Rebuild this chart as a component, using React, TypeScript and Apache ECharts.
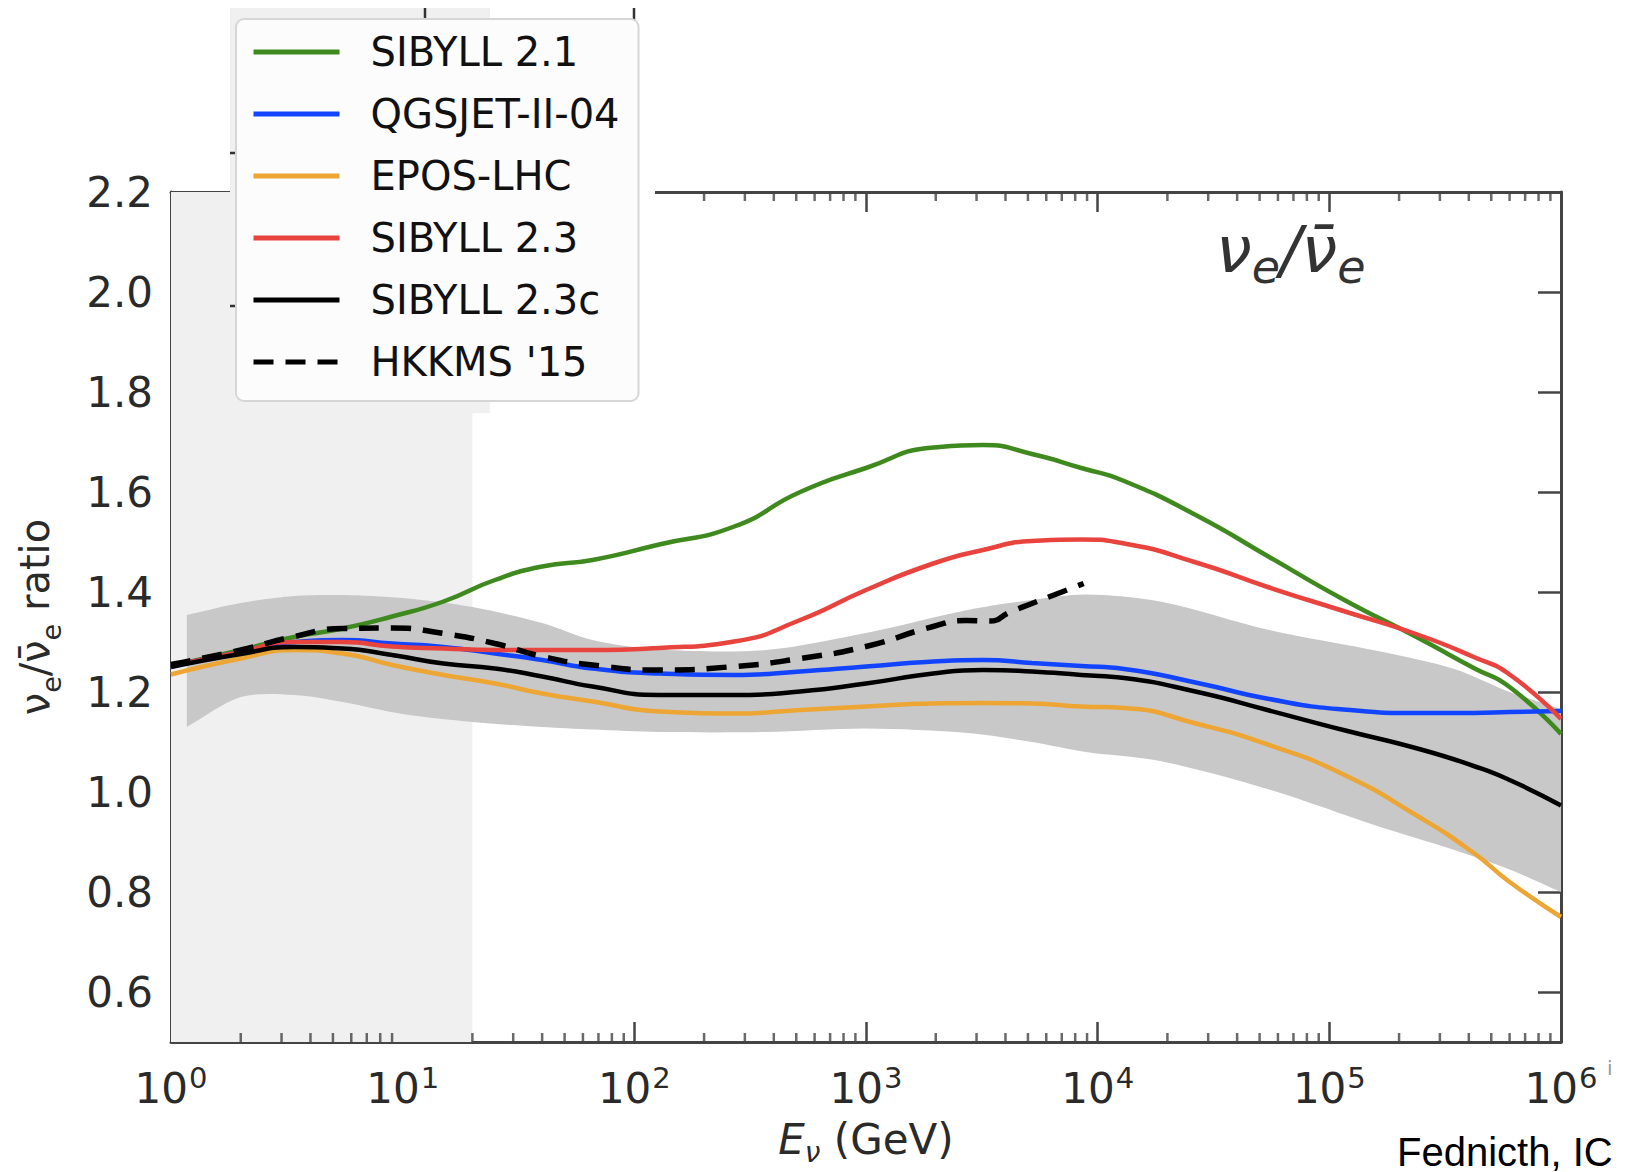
import React, { useEffect, useRef } from "react";
import * as echarts from "echarts";

// ---------- data ----------
const E_MODEL = [1, 2, 3.4, 5.5, 9, 15, 25, 40, 66, 128, 270, 520, 1000, 1950, 3200, 5200, 8500, 13000, 27000, 55000, 115000, 240000, 420000, 600000, 1000000];

const SIBYLL_21 = [1.252, 1.284, 1.31, 1.327, 1.351, 1.381, 1.424, 1.451, 1.464, 1.495, 1.531, 1.6, 1.648, 1.689, 1.694, 1.676, 1.648, 1.622, 1.552, 1.47, 1.385, 1.309, 1.248, 1.21, 1.116];
const QGSJET_II_04 = [1.252, 1.28, 1.3, 1.304, 1.297, 1.29, 1.277, 1.264, 1.247, 1.237, 1.234, 1.241, 1.251, 1.261, 1.264, 1.258, 1.252, 1.246, 1.218, 1.186, 1.165, 1.158, 1.158, 1.16, 1.162];
const EPOS_LHC = [1.235, 1.267, 1.284, 1.277, 1.254, 1.234, 1.217, 1.197, 1.181, 1.161, 1.157, 1.164, 1.171, 1.177, 1.178, 1.177, 1.171, 1.168, 1.136, 1.094, 1.035, 0.952, 0.878, 0.82, 0.75];
const SIBYLL_23 = [1.252, 1.28, 1.3, 1.3, 1.291, 1.287, 1.284, 1.284, 1.284, 1.288, 1.301, 1.344, 1.404, 1.457, 1.484, 1.502, 1.505, 1.497, 1.458, 1.409, 1.362, 1.315, 1.27, 1.235, 1.146];
const SIBYLL_23C = [1.25, 1.276, 1.29, 1.287, 1.274, 1.257, 1.247, 1.231, 1.211, 1.194, 1.194, 1.201, 1.217, 1.237, 1.244, 1.241, 1.234, 1.228, 1.2, 1.163, 1.124, 1.087, 1.052, 1.024, 0.973];

const E_HKKMS = [1, 2, 3.4, 5.5, 9, 15, 25, 40, 66, 128, 270, 520, 1000, 1950, 2700, 3400, 4200, 5200, 7000, 8700];
const HKKMS_15 = [1.255, 1.284, 1.311, 1.327, 1.328, 1.317, 1.297, 1.271, 1.254, 1.244, 1.251, 1.267, 1.291, 1.331, 1.343, 1.342, 1.36, 1.377, 1.4, 1.417];

const BAND_E = [1.17, 2, 3.4, 5.5, 10, 20, 40, 66, 128, 370, 1000, 2750, 5200, 8900, 18600, 55000, 166000, 347000, 600000, 1000000];
const BAND_HIGH = [1.354, 1.378, 1.392, 1.394, 1.388, 1.37, 1.338, 1.304, 1.285, 1.284, 1.318, 1.364, 1.384, 1.395, 1.381, 1.324, 1.281, 1.246, 1.2, 1.166];
const BAND_LOW = [1.13, 1.19, 1.194, 1.18, 1.156, 1.14, 1.13, 1.125, 1.12, 1.12, 1.127, 1.118, 1.1, 1.08, 1.062, 1.005, 0.93, 0.884, 0.845, 0.8];

const SHADED_E_RANGE = [1, 20];
const X_MIN = 1;
const X_MAX = 1000000;
const Y_MIN = 0.5;
const Y_MAX = 2.2;
const DECADES = [1, 10, 100, 1000, 10000, 100000];
const MINOR_MULTIPLIERS = [2, 3, 4, 5, 6, 7, 8, 9];

const MODELS = [
  { name: "SIBYLL 2.1", data: SIBYLL_21, color: "#3f8a1e" },
  { name: "QGSJET-II-04", data: QGSJET_II_04, color: "#1244ff" },
  { name: "EPOS-LHC", data: EPOS_LHC, color: "#eda533" },
  { name: "SIBYLL 2.3", data: SIBYLL_23, color: "#e8433d" },
  { name: "SIBYLL 2.3c", data: SIBYLL_23C, color: "#000000" },
];

const FONT = "DejaVu Sans";
const AXIS_COLOR = "#444444";
const LABEL_COLOR = "#2a2a2a";
const SMOOTH = 0.55;

const pair = (xs: number[], ys: number[]) => xs.map((x, i) => [x, ys[i]]);
const MINOR_TICKS = DECADES.flatMap((d) => MINOR_MULTIPLIERS.map((m) => m * d));

function buildOption() {
  const lineSeries = MODELS.map((m) => ({
    name: m.name,
    type: "line",
    data: pair(E_MODEL, m.data),
    symbol: "none",
    smooth: SMOOTH,
    z: 3,
    lineStyle: { color: m.color, width: 4.5 },
    itemStyle: { color: m.color },
  }));

  const hkkms = {
    name: "HKKMS '15",
    type: "line",
    data: pair(E_HKKMS, HKKMS_15),
    symbol: "none",
    smooth: SMOOTH,
    z: 4,
    lineStyle: { color: "#000", width: 5.5, type: [20, 12] },
    itemStyle: { color: "#000" },
  };

  const band = {
    name: "band",
    type: "custom",
    silent: true,
    z: 2,
    clip: true,
    data: BAND_E.map((e, i) => [e, BAND_LOW[i], BAND_HIGH[i]]),
    encode: { x: 0, y: [1, 2] },
    renderItem: (params: any, api: any) => {
      if (params.dataIndex !== 0) return null;
      const top = BAND_E.map((e, i) => api.coord([e, BAND_HIGH[i]]));
      const bottom = BAND_E.map((e, i) => api.coord([e, BAND_LOW[i]])).reverse();
      // duplicate the corner points so the smoothed outline keeps straight end edges
      const pts = [top[0], ...top, top[top.length - 1], bottom[0], ...bottom, bottom[bottom.length - 1]];
      return {
        type: "polygon",
        shape: { points: pts, smooth: 0.3 },
        style: { fill: "#c8c8c8" },
      };
    },
    markArea: {
      silent: true,
      z: 1,
      itemStyle: { color: "#f0f0f0" },
      data: [[{ xAxis: SHADED_E_RANGE[0] }, { xAxis: SHADED_E_RANGE[1] }]],
    },
  };

  const tickStyle = { color: AXIS_COLOR, width: 2.5 };

  return {
    animation: false,
    backgroundColor: "#ffffff",
    grid: { left: 171, right: 65, top: 192, bottom: 130, containLabel: false, outerBoundsMode: "none" },
    xAxis: [
      {
        type: "log",
        logBase: 10,
        min: X_MIN,
        max: X_MAX,
        position: "bottom",
        splitLine: { show: false },
        axisLine: { show: true, lineStyle: { color: AXIS_COLOR, width: 3 } },
        axisTick: { show: true, inside: true, length: 20, lineStyle: tickStyle },
        axisLabel: {
          margin: 17,
          formatter: (v: number) => `{b|10}{s|${Math.round(Math.log10(v))}}`,
          rich: {
            b: { fontSize: 42, fontFamily: FONT, color: LABEL_COLOR, lineHeight: 50, verticalAlign: "bottom" },
            s: { fontSize: 29, fontFamily: FONT, color: LABEL_COLOR, verticalAlign: "top", padding: [4, 0, 0, 1] },
          },
        },
        name: "{i|E}{sub|ν}{n| (GeV)}",
        nameLocation: "middle",
        nameGap: 76,
        nameTextStyle: {
          rich: {
            i: { fontSize: 42, fontFamily: FONT, fontStyle: "italic", color: LABEL_COLOR, lineHeight: 48, verticalAlign: "top" },
            sub: { fontSize: 28, fontFamily: FONT, fontStyle: "italic", color: LABEL_COLOR, lineHeight: 48, verticalAlign: "bottom" },
            n: { fontSize: 42, fontFamily: FONT, color: LABEL_COLOR, lineHeight: 48, verticalAlign: "top" },
          },
        },
      },
      {
        type: "log",
        logBase: 10,
        min: X_MIN,
        max: X_MAX,
        position: "top",
        splitLine: { show: false },
        axisLine: { show: true, lineStyle: { color: AXIS_COLOR, width: 3 } },
        axisTick: { show: true, inside: true, length: 20, lineStyle: tickStyle },
        axisLabel: { show: false },
      },
    ],
    yAxis: [
      {
        type: "value",
        min: Y_MIN,
        max: Y_MAX,
        splitNumber: 8,
        position: "left",
        splitLine: { show: false },
        axisLine: { show: true, lineStyle: { color: AXIS_COLOR, width: 3 } },
        axisTick: { show: true, inside: true, length: 23, lineStyle: tickStyle },
        axisLabel: {
          margin: 18,
          fontSize: 42,
          fontFamily: FONT,
          color: LABEL_COLOR,
          formatter: (v: number) => (Math.abs(v - Y_MIN) < 1e-6 ? "" : v.toFixed(1)),
        },
        name: "{n|ν}{sub|e}{n|/ν̄}{sub|e}{n| ratio}",
        nameLocation: "middle",
        nameRotate: 90,
        nameGap: 106,
        nameTextStyle: {
          rich: {
            n: { fontSize: 40, fontFamily: FONT, color: LABEL_COLOR, lineHeight: 50, verticalAlign: "top" },
            sub: { fontSize: 27, fontFamily: FONT, color: LABEL_COLOR, verticalAlign: "bottom" },
          },
        },
      },
      {
        type: "value",
        min: Y_MIN,
        max: Y_MAX,
        splitNumber: 8,
        position: "right",
        splitLine: { show: false },
        axisLine: { show: true, lineStyle: { color: AXIS_COLOR, width: 3 } },
        axisTick: { show: true, inside: true, length: 23, lineStyle: tickStyle },
        axisLabel: { show: false },
      },
    ],
    legend: {
      data: [...MODELS.map((m) => m.name), "HKKMS '15"],
      orient: "vertical",
      left: 236,
      top: 19,
      z: 200,
      itemWidth: 86,
      itemHeight: 14,
      itemGap: 20,
      padding: [12, 19, 18, 15],
      backgroundColor: "rgba(252,252,252,0.98)",
      borderColor: "#d6d6d6",
      borderWidth: 2,
      borderRadius: 8,
      selectedMode: false,
      itemStyle: { opacity: 0 },
      lineStyle: { width: 5 },
      textStyle: { fontFamily: FONT, fontSize: 40, color: "#111", lineHeight: 42, padding: [0, 0, 0, 26] },
    },
    graphic: [
      { type: "rect", z: 100, shape: { x: 230, y: 8, width: 425, height: 405 }, style: { fill: "#ffffff" } },
      { type: "rect", z: 101, shape: { x: 230, y: 8, width: 260, height: 405 }, style: { fill: "#f0f0f0" } },
      { type: "line", z: 102, shape: { x1: 425, y1: 8, x2: 425, y2: 21 }, style: { stroke: "#333", lineWidth: 2.5 } },
      { type: "line", z: 102, shape: { x1: 634, y1: 8, x2: 634, y2: 21 }, style: { stroke: "#333", lineWidth: 2.5 } },
      { type: "line", z: 102, shape: { x1: 230, y1: 153, x2: 237, y2: 153 }, style: { stroke: "#333", lineWidth: 2.5 } },
      { type: "line", z: 102, shape: { x1: 230, y1: 306, x2: 237, y2: 306 }, style: { stroke: "#333", lineWidth: 2.5 } },
      {
        type: "text",
        z: 50,
        x: 1216,
        y: 218,
        style: {
          text: "{v|ν}{s|e}{v|/ν̄}{s|e}",
          fill: "#333",
          rich: {
            v: { fontSize: 64, fontFamily: FONT, fontStyle: "italic", fill: "#333", lineHeight: 72, verticalAlign: "top" },
            s: { fontSize: 46, fontFamily: FONT, fontStyle: "italic", fill: "#333", verticalAlign: "bottom" },
          },
        },
      },
      {
        type: "text",
        z: 50,
        x: 1397,
        y: 1132,
        style: { text: "Fednicth, IC", fontSize: 40, fontFamily: "Liberation Sans", fill: "#000" },
      },
      {
        type: "text",
        z: 50,
        x: 1607,
        y: 1058,
        style: { text: "i", fontSize: 20, fontFamily: FONT, fill: "#999" },
      },
    ],
    series: [
      band,
      ...lineSeries,
      hkkms,
      {
        name: "minor-bottom",
        type: "scatter",
        data: MINOR_TICKS.map((x) => [x, Y_MIN]),
        symbol: "rect",
        symbolSize: [2.5, 9],
        symbolOffset: [0, -4.5],
        itemStyle: { color: AXIS_COLOR },
        silent: true,
        clip: false,
        z: 5,
      },
      {
        name: "minor-top",
        type: "scatter",
        data: MINOR_TICKS.map((x) => [x, Y_MAX]),
        symbol: "rect",
        symbolSize: [2.5, 9],
        symbolOffset: [0, 4.5],
        itemStyle: { color: AXIS_COLOR },
        silent: true,
        clip: false,
        z: 5,
      },
    ],
  };
}

export default function App() {
  const ref = useRef<HTMLDivElement>(null);
  useEffect(() => {
    document.body.style.margin = "0";
    const chart = echarts.init(ref.current as HTMLDivElement, null, { renderer: "svg" });
    chart.setOption(buildOption() as any);
    return () => chart.dispose();
  }, []);
  return <div ref={ref} style={{ width: 1626, height: 1172 }} />;
}
